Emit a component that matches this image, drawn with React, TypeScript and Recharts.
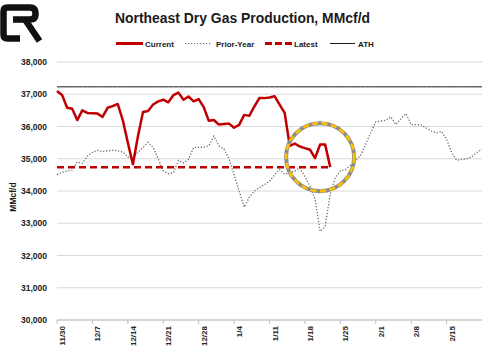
import React from 'react';
import { LineChart, Line, XAxis, YAxis, CartesianGrid, ReferenceDot } from 'recharts';

const dates = [
  '11/30',
  '12/1', '12/2', '12/3', '12/4', '12/5', '12/6', '12/7', '12/8', '12/9', '12/10', '12/11', '12/12', '12/13', '12/14', '12/15', '12/16',
  '12/17', '12/18', '12/19', '12/20', '12/21', '12/22', '12/23', '12/24', '12/25', '12/26', '12/27', '12/28', '12/29', '12/30', '12/31',
  '1/1', '1/2', '1/3', '1/4', '1/5', '1/6', '1/7', '1/8', '1/9', '1/10', '1/11', '1/12', '1/13', '1/14', '1/15', '1/16',
  '1/17', '1/18', '1/19', '1/20', '1/21', '1/22', '1/23', '1/24', '1/25', '1/26', '1/27', '1/28', '1/29', '1/30', '1/31',
  '2/1', '2/2', '2/3', '2/4', '2/5', '2/6', '2/7', '2/8', '2/9', '2/10', '2/11', '2/12', '2/13', '2/14', '2/15', '2/16',
  '2/17', '2/18', '2/19', '2/20', '2/21', '2/22',
];

const tickLabels = ['11/30', '12/7', '12/14', '12/21', '12/28', '1/4', '1/11', '1/18', '1/25', '2/1', '2/8', '2/15'];
const yTicks = [30000, 31000, 32000, 33000, 34000, 35000, 36000, 37000, 38000];

// current season, through 1/23
const current = [
  37100, 36980, 36580, 36550, 36200, 36500, 36420, 36410, 36400, 36300,
  36580, 36630, 36700, 36200, 35500, 34830, 35700, 36450, 36480, 36680,
  36780, 36830, 36750, 36970, 37050, 36830, 36930, 36780, 36850, 36600,
  36180, 36200, 36060, 36080, 36090, 35960, 36050, 36360, 36330, 36620,
  36880, 36880, 36900, 36940, 36680, 36420, 35400, 35470, 35380, 35330,
  35280, 35020, 35440, 35440, 34740,
];

const priorYear = [
  34510, 34580, 34620, 34650, 34900, 34860, 35080, 35200, 35260, 35220,
  35250, 35260, 35250, 35210, 35050, 35000, 35200, 35350, 35510, 35350,
  35000, 34620, 34540, 34560, 34950, 34870, 34980, 35350, 35350, 35360,
  35400, 35700, 35400, 35300, 35000, 34500, 34000, 33500, 33800, 34000,
  34100, 34200, 34300, 34500, 34670, 34520, 34560, 34620, 34720, 34450,
  34150, 33750, 32750, 32900, 33900, 34420, 34620, 34660, 34800, 34950,
  35100, 35450, 35800, 36140, 36170, 36190, 36300, 36060, 36250, 36400,
  36060, 36060, 36050, 35950, 35860, 35800, 35850, 35600, 35200, 34950,
  34980, 35000, 35060, 35200, 35290,
];

const latestValue = 34740;
const athValue = 37230;
const highlight = { date: '1/21', value: 35050 };

const data = dates.map((date, i) => ({
  date,
  current: i < current.length ? current[i] : null,
  prior: priorYear[i],
  latest: i < current.length ? latestValue : null,
  ath: athValue,
}));

const font = '"Liberation Sans", Arial, sans-serif';
const red = '#c00000';
const dotted = '#666666';

const DateTick = ({ x, y, payload }: any) => (
  <text
    x={x}
    y={y}
    transform={`rotate(-90, ${x}, ${y})`}
    textAnchor="end"
    dy={8}
    fontSize={8}
    fontWeight="bold"
    fill="#262626"
    fontFamily={font}
  >
    {payload.value}
  </text>
);

const Highlight = ({ cx, cy }: any) => (
  <g>
    <circle cx={cx} cy={cy} r={34} fill="none" stroke="#8c8c8c" strokeWidth={4} />
    <circle cx={cx} cy={cy} r={34} fill="none" stroke="#ffc000" strokeWidth={2.6} strokeDasharray="6 3.5" />
  </g>
);

const Overlay = () => (
  <svg width={485} height={355} style={{ position: 'absolute', left: 0, top: 0, pointerEvents: 'none' }}>
    {/* logo */}
    <path d="M20 38.5 L7.5 38.5 Q3.5 38.5 3.5 34.5 L3.5 11.5 Q3.5 7.5 7.5 7.5 L30 7.5 Q35.5 7.5 35.5 13 L35.5 14.5 Q35.5 19.5 30 19.5 L13 19.5" stroke="#111" strokeWidth={6.5} fill="none" />
    <path d="M25 19.5 L39.5 41" stroke="#111" strokeWidth={6.5} fill="none" />

    <text x={115} y={23} fontSize={14} fontWeight="bold" fill="#1a1a1a" fontFamily={font} textLength={255} lengthAdjust="spacingAndGlyphs">
      Northeast Dry Gas Production, MMcf/d
    </text>

    <g fontSize={8} fontWeight="bold" fill="#1a1a1a" fontFamily={font}>
      <line x1={116} x2={143} y1={43.5} y2={43.5} stroke={red} strokeWidth={3} />
      <text x={145} y={46.5}>Current</text>
      <line x1={185} x2={211} y1={43.5} y2={43.5} stroke={dotted} strokeWidth={1.2} strokeDasharray="1.2 1.8" />
      <text x={216} y={46.5}>Prior-Year</text>
      <line x1={265} x2={292} y1={43.5} y2={43.5} stroke={red} strokeWidth={3} strokeDasharray="7 3" />
      <text x={294} y={46.5}>Latest</text>
      <line x1={330} x2={355} y1={43.5} y2={43.5} stroke="#1a1a1a" strokeWidth={1} />
      <text x={358} y={46.5}>ATH</text>
    </g>

    <text
      x={13}
      y={197}
      transform="rotate(-90, 13, 197)"
      textAnchor="middle"
      dy="0.35em"
      fontSize={8.5}
      fontWeight="bold"
      fill="#1a1a1a"
      fontFamily={font}
    >
      MMcf/d
    </text>
  </svg>
);

const App = () => {
  return (
    <div style={{ position: 'absolute', left: 0, top: 0, width: 485, height: 355, background: '#fff' }}>
      <LineChart width={485} height={355} data={data} margin={{ top: 62, right: 3, bottom: 0, left: 10 }}>
        <CartesianGrid vertical={false} stroke="#d9d9d9" strokeWidth={1} />
        <XAxis
          dataKey="date"
          ticks={tickLabels}
          interval={0}
          height={35}
          tick={<DateTick />}
          tickSize={4}
          tickMargin={2}
          stroke="#bfbfbf"
          tickLine={{ stroke: '#bfbfbf' }}
        />
        <YAxis
          domain={[30000, 38000]}
          ticks={yTicks}
          width={47}
          axisLine={false}
          tickLine={false}
          tickMargin={4}
          tickFormatter={(v: number) => v.toLocaleString('en-US')}
          tick={{ fontSize: 8.5, fontWeight: 'bold', fill: '#1a1a1a', fontFamily: font }}
        />
        <Line dataKey="prior" stroke={dotted} strokeWidth={1.3} strokeDasharray="1.2 1.8" dot={false} isAnimationActive={false} />
        <Line dataKey="latest" stroke={red} strokeWidth={2.5} strokeDasharray="7 4" dot={false} isAnimationActive={false} />
        <Line dataKey="ath" stroke="#1a1a1a" strokeWidth={1} dot={false} isAnimationActive={false} />
        <Line dataKey="current" stroke={red} strokeWidth={2.5} dot={false} strokeLinejoin="round" isAnimationActive={false} />
        <ReferenceDot x={highlight.date} y={highlight.value} r={34} shape={<Highlight />} ifOverflow="visible" />
      </LineChart>
      <Overlay />
    </div>
  );
};

export default App;
